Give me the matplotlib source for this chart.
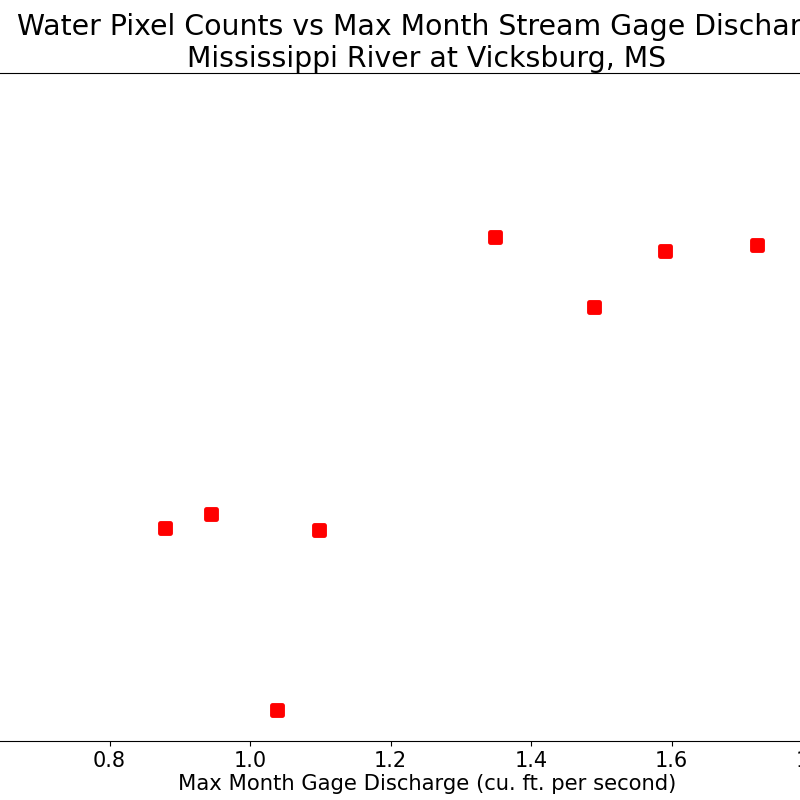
import matplotlib
matplotlib.use("Agg")
import matplotlib.pyplot as plt
from matplotlib.markers import MarkerStyle

# Data (visible points)
discharge = [0.879, 0.9445, 1.0384, 1.0982, 1.3488, 1.4897, 1.5907, 1.7217]
pixel_counts = [54030, 54952, 42042, 53898, 73198, 68587, 72275, 72671]

title_text = "Water Pixel Counts vs Max Month Stream Gage Discharge\nMississippi River at Vicksburg, MS"
xlabel_text = "Max Month Gage Discharge (cu. ft. per second)"
xticks = [0.6, 0.8, 1.0, 1.2, 1.4, 1.6, 1.8]

fig = plt.figure(figsize=(8, 8), dpi=100)
L, R = -60, 914
ax = fig.add_axes([L / 800, 59 / 800, (R - L) / 800, 668 / 800])
ax.plot(discharge, pixel_counts, linestyle="none",
        marker=MarkerStyle("s", joinstyle="round"), markersize=7,
        markerfacecolor="red", markeredgecolor="red", markeredgewidth=3.5)
ax.set_xlim(1 + (L - 250) / 702.5, 1 + (R - 250) / 702.5)
ax.set_ylim(40000, 84000)
ax.set_xticks(xticks)
ax.set_xticklabels([f"{t:.1f}" for t in xticks])
ax.tick_params(axis="x", labelsize=15)
ax.set_xlabel(xlabel_text, fontsize=15.2, labelpad=2)
ax.set_title(title_text, fontsize=20.4, pad=3)
fig.savefig("out.png", dpi=100)
